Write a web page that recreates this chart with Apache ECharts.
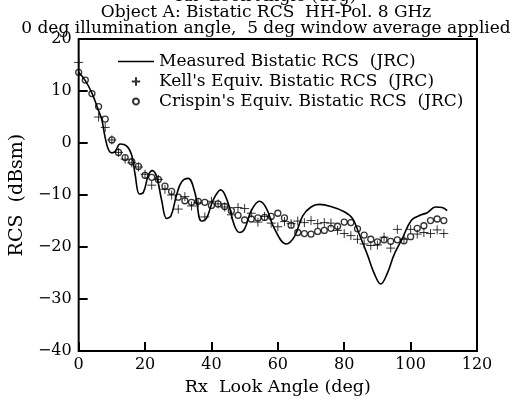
<!DOCTYPE html>
<html>
<head>
<meta charset="utf-8">
<script src="https://cdn.jsdelivr.net/npm/echarts@6/dist/echarts.min.js"></script>
<style>
  html, body { margin: 0; padding: 0; background: #fff; }
  #chart { width: 516px; height: 401px; }
</style>
</head>
<body>
<div id="chart"></div>
<script>
  // measured curve (angle in deg, RCS in dBsm)
  const measuredAngle = [0, 2, 4, 6, 7, 8, 9, 10, 11, 12.5, 14.5, 16, 17, 18.3, 19.5, 21, 22.2, 23.5, 25, 26.5,
    27.8, 29.5, 31, 33, 35, 37, 38.5, 40.5, 42.8, 45, 47, 48.5, 50, 52, 54.5, 56.5, 59, 62.5, 65, 67.5,
    70, 72.5, 76, 80, 82.5, 84.5, 87, 89, 91, 93, 95, 97.4, 100.3, 103.2, 105, 107.5, 109.5, 111];
  const measuredRcs = [13.6, 12.0, 9.6, 6.2, 4.4, 1.0, -1.3, -1.9, -1.6, -0.2, -0.6, -2.4, -6.0, -9.8, -9.5, -6.2, -5.3, -6.5, -11, -14.5,
    -14, -10, -7.5, -6.8, -9.5, -15, -14.5, -11, -9.0, -11.5, -16, -17.2, -16.5, -13, -11.2, -12.5, -16.5, -19.4, -18, -14,
    -12.3, -11.8, -12.2, -13.2, -14.5, -17.5, -21.5, -25, -27.1, -25, -21.5, -18.5, -14.8, -13.8, -13.4, -12.3, -12.4, -13.0];

  // Kell's equivalent bistatic RCS
  const kellAngle = [0, 6, 8, 10, 12, 14, 16, 18, 20, 22, 24, 26, 28, 30, 32, 34, 36, 38, 40, 42, 44, 46, 48, 50, 52, 54,
    56, 58, 60, 62, 64, 66, 68, 70, 72, 74, 76, 78, 80, 82, 84, 86, 88, 90, 92, 94, 96, 98, 100, 102, 104, 106, 108, 110];
  const kellRcs = [15.5, 5.0, 3.0, 0.6, -1.8, -3.1, -3.8, -4.6, -6.0, -8.1, -7.0, -8.9, -10.0, -12.7, -10.3, -12.1, -11.5, -14.2, -11.2, -11.7,
    -12.3, -13.8, -12.4, -12.6, -13.5, -15.2, -14.1, -15.4, -16.1, -15.1, -15.5, -15.0, -15.3, -14.9, -15.5, -15.3, -15.4, -16.8, -17.4, -17.8,
    -18.5, -19.4, -19.7, -19.6, -18.1, -20.2, -16.6, -18.5, -16.6, -17.5, -17.2, -17.4, -16.7, -17.4];

  // Crispin's equivalent bistatic RCS
  const crispinAngle = [0, 2, 4, 6, 8, 10, 12, 14, 16, 18, 20, 22, 24, 26, 28, 30, 32, 34, 36, 38, 40, 42, 44, 46, 48, 50, 52, 54,
    56, 58, 60, 62, 64, 66, 68, 70, 72, 74, 76, 78, 80, 82, 84, 86, 88, 90, 92, 94, 96, 98, 100, 102, 104, 106, 108, 110];
  const crispinRcs = [13.6, 12.1, 9.5, 7.0, 4.6, 0.6, -1.8, -2.8, -3.6, -4.5, -6.2, -6.6, -7.0, -8.3, -9.3, -10.4, -11.1, -11.4, -11.2, -11.4,
    -12.0, -11.7, -12.2, -13.0, -13.9, -14.8, -14.6, -14.4, -14.3, -14.1, -13.5, -14.4, -15.8, -17.2, -17.4, -17.5, -17.0, -16.8, -16.4, -16.0,
    -15.2, -15.3, -16.5, -17.7, -18.5, -19.0, -18.6, -18.9, -18.6, -18.8, -18.0, -16.4, -15.9, -14.9, -14.6, -14.9];

  const seriesNames = ['Measured Bistatic RCS  (JRC)', "Kell's Equiv. Bistatic RCS  (JRC)", "Crispin's Equiv. Bistatic RCS  (JRC)"];
  const titleLines = ['Rx  Look Angle (deg)', 'Object A: Bistatic RCS  HH-Pol. 8 GHz', '0 deg illumination angle,  5 deg window average applied'];

  const pair = (xs, ys) => xs.map((x, i) => [x, ys[i]]);
  const serif = 'DejaVu Serif';
  const minus = v => String(v).replace('-', '\u2212');

  const chart = echarts.init(document.getElementById('chart'));
  chart.setOption({
    animation: false,
    graphic: titleLines.map((t, i) => ({
      type: 'text',
      x: 266,
      y: -3 + i * 16,
      style: { text: t, fill: '#000', font: '17px "DejaVu Serif"', align: 'center', verticalAlign: 'middle' }
    })),
    legend: {
      orient: 'vertical',
      left: 118,
      top: 53,
      padding: 0,
      itemWidth: 36,
      itemHeight: 12,
      itemGap: 3,
      textStyle: { fontFamily: serif, fontSize: 17, color: '#000' },
      data: [
        { name: seriesNames[0], icon: 'path://M0,0L36,0L36,1.6L0,1.6Z' },
        { name: seriesNames[1], icon: 'path://M0,0M20,20M3,10L17,10M10,3L10,17' },
        { name: seriesNames[2], icon: 'path://M0,0M20,20M10,5A5,5,0,1,1,9.99,5Z' }
      ]
    },
    grid: {
      left: 66, right: 39, top: 39, bottom: 38,
      show: true, borderColor: '#000', borderWidth: 2
    },
    xAxis: {
      type: 'value', min: 0, max: 120, interval: 20,
      name: 'Rx  Look Angle (deg)', nameLocation: 'middle', nameGap: 25,
      nameTextStyle: { fontFamily: serif, fontSize: 17.5, color: '#000' },
      axisLine: { show: false, onZero: false },
      axisTick: { inside: true, length: 9, lineStyle: { color: '#000', width: 2 } },
      axisLabel: { fontFamily: serif, fontSize: 16, color: '#000', margin: 6 },
      splitLine: { show: false }
    },
    yAxis: {
      type: 'value', min: -40, max: 20, interval: 10,
      name: 'RCS  (dBsm)', nameLocation: 'middle', nameGap: 46, nameRotate: 90,
      nameTextStyle: { fontFamily: serif, fontSize: 19, color: '#000' },
      axisLine: { show: false, onZero: false },
      axisTick: { inside: true, length: 9, lineStyle: { color: '#000', width: 2 } },
      axisLabel: { fontFamily: serif, fontSize: 16, color: '#000', margin: 7, formatter: minus },
      splitLine: { show: false }
    },
    series: [
      {
        name: seriesNames[0], type: 'line', data: pair(measuredAngle, measuredRcs),
        smooth: 0.4, symbol: 'none', lineStyle: { color: '#000', width: 1.6 }, itemStyle: { color: '#000' }
      },
      {
        name: seriesNames[1], type: 'scatter', data: pair(kellAngle, kellRcs),
        symbol: 'path://M0,5L10,5M5,0L5,10', symbolSize: 9,
        itemStyle: { color: 'transparent', borderColor: '#000', borderWidth: 1 }
      },
      {
        name: seriesNames[2], type: 'scatter', data: pair(crispinAngle, crispinRcs),
        symbol: 'circle', symbolSize: 6,
        itemStyle: { color: 'transparent', borderColor: '#000', borderWidth: 1.3 }
      }
    ]
  });
</script>
</body>
</html>
